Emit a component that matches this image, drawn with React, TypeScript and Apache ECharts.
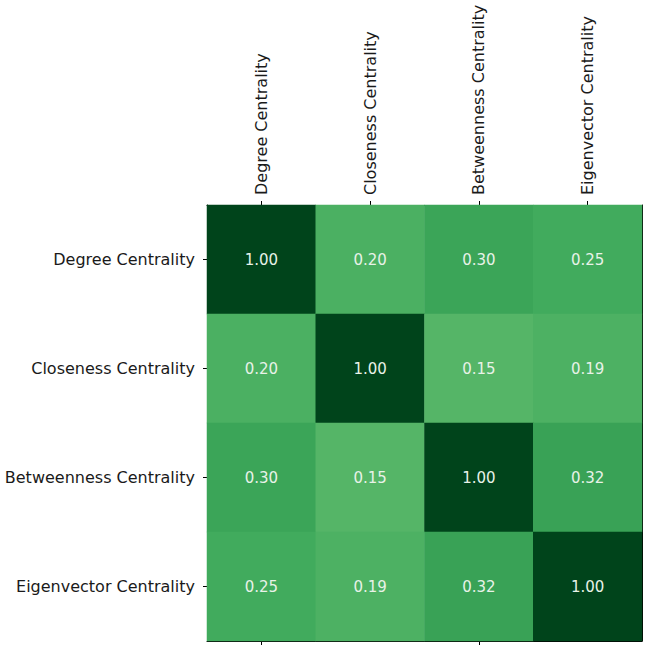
import React, { useEffect, useRef } from "react";
import * as echarts from "echarts";

const categories = [
  "Degree Centrality",
  "Closeness Centrality",
  "Betweenness Centrality",
  "Eigenvector Centrality",
];

const row0 = [1.0, 0.2, 0.3, 0.25];
const row1 = [0.2, 1.0, 0.15, 0.19];
const row2 = [0.3, 0.15, 1.0, 0.32];
const row3 = [0.25, 0.19, 0.32, 1.0];
const matrix = [row0, row1, row2, row3];

const greens = [
  "#f7fcf5",
  "#e5f5e0",
  "#c7e9c0",
  "#a1d99b",
  "#74c476",
  "#41ab5d",
  "#238b45",
  "#006d2c",
  "#00441b",
];

export default function App() {
  const ref = useRef<HTMLDivElement>(null);
  useEffect(() => {
    if (!ref.current) return;
    const chart = echarts.init(ref.current, undefined, { renderer: "svg" });
    const data: [number, number, number][] = [];
    matrix.forEach((row, yi) => row.forEach((v, xi) => data.push([xi, yi, v])));
    const font = "DejaVu Sans";
    const axisCommon = {
      type: "category" as const,
      data: categories,
      axisLine: { show: true, onZero: false, lineStyle: { color: "#000", width: 1 } },
      axisTick: { show: true, alignWithLabel: true, length: 4, lineStyle: { color: "#000" } },
      splitLine: { show: false },
    };
    chart.setOption({
      animation: false,
      backgroundColor: "#fff",
      grid: { left: 207, right: 6, top: 205, bottom: 10, containLabel: false },
      visualMap: {
        show: false,
        min: -1,
        max: 1,
        inRange: { color: greens },
        dimension: 2,
      },
      xAxis: [
        {
          ...axisCommon,
          position: "top",
          axisLabel: {
            rotate: -90,
            margin: 10,
            fontFamily: font,
            fontSize: 16,
            color: "#1a1a1a",
          },
        },
        {
          ...axisCommon,
          position: "bottom",
          axisLabel: { show: false },
        },
      ],
      yAxis: [
        {
          ...axisCommon,
          inverse: true,
          position: "left",
          axisLabel: {
            margin: 12,
            fontFamily: font,
            fontSize: 16,
            color: "#1a1a1a",
          },
        },
        {
          ...axisCommon,
          inverse: true,
          position: "right",
          axisTick: { show: false },
          axisLabel: { show: false },
        },
      ],
      series: [
        {
          type: "heatmap",
          xAxisIndex: 0,
          yAxisIndex: 0,
          data,
          label: {
            show: true,
            color: "#e8f2e8",
            fontFamily: font,
            fontSize: 15,
            formatter: (p: any) => (p.value[2] as number).toFixed(2),
          },
          itemStyle: { borderWidth: 0 },
          emphasis: { disabled: true },
        },
      ],
    });
    return () => chart.dispose();
  }, []);
  return <div ref={ref} style={{ width: 648, height: 651, position: "absolute", left: 0, top: 0 }} />;
}
